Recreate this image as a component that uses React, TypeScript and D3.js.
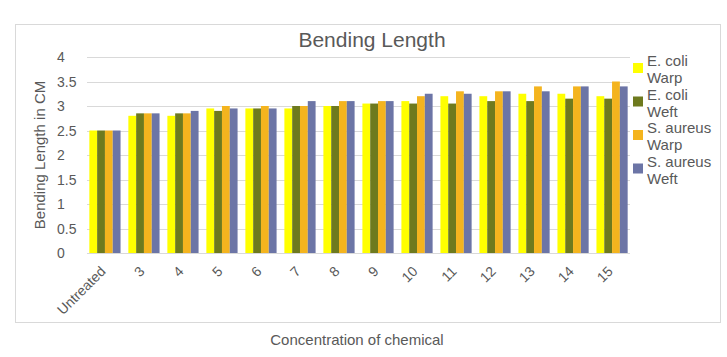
import React from "react";
import * as d3 from "d3";

const categories = ["Untreated", "3", "4", "5", "6", "7", "8", "9", "10", "11", "12", "13", "14", "15"];
const seriesNames = ["E. coli Warp", "E. coli Weft", "S. aureus Warp", "S. aureus Weft"];
const ecoliWarp = [2.5, 2.8, 2.8, 2.95, 2.95, 2.95, 3.0, 3.05, 3.1, 3.2, 3.2, 3.25, 3.25, 3.2];
const ecoliWeft = [2.5, 2.85, 2.85, 2.9, 2.95, 3.0, 3.0, 3.05, 3.05, 3.05, 3.1, 3.1, 3.15, 3.15];
const saureusWarp = [2.5, 2.85, 2.85, 3.0, 3.0, 3.0, 3.1, 3.1, 3.2, 3.3, 3.3, 3.4, 3.4, 3.5];
const saureusWeft = [2.5, 2.85, 2.9, 2.95, 2.95, 3.1, 3.1, 3.1, 3.25, 3.25, 3.3, 3.3, 3.4, 3.4];
const yTicks = [0, 0.5, 1, 1.5, 2, 2.5, 3, 3.5, 4];
const colors = ["#FFFF00", "#6E7A1E", "#F4B41E", "#6C75A6"];

const seriesValues = [ecoliWarp, ecoliWeft, saureusWarp, saureusWeft];
const legendLines = [["E. coli", "Warp"], ["E. coli", "Weft"], ["S. aureus", "Warp"], ["S. aureus", "Weft"]];

const W = 727;
const H = 357;
const font = "'Liberation Sans', Arial, sans-serif";
const textColor = "#595959";

export default function App() {
  const x0 = d3.scaleBand<string>().domain(categories).range([87, 630]).paddingInner(0.2).paddingOuter(0.06);
  const x1 = d3.scaleBand<number>().domain([0, 1, 2, 3]).range([0, x0.bandwidth()]);
  const y = d3.scaleLinear().domain([0, 4]).range([253, 57]);

  return (
    <svg width={W} height={H} style={{ position: "absolute", left: 0, top: 0, background: "#fff" }}>
      <rect x={0} y={0} width={W} height={H} fill="#fff" />
      <rect x={15.5} y={24.5} width={705} height={298} fill="#fff" stroke="#d9d9d9" strokeWidth={1} />
      <text x={372} y={47} textAnchor="middle" fontFamily={font} fontSize={21} fill={textColor}>
        Bending Length
      </text>
      {yTicks.map((t) => (
        <g key={t}>
          {t > 0 && (
            <line x1={87} x2={630} y1={Math.round(y(t)) + 0.5} y2={Math.round(y(t)) + 0.5} stroke="#d9d9d9" strokeWidth={1} />
          )}
          <text x={57} y={y(t) + 5} fontFamily={font} fontSize={14} fill={textColor}>
            {t}
          </text>
        </g>
      ))}
      {categories.map((c, ci) => (
        <g key={c} transform={`translate(${x0(c)},0)`}>
          {seriesValues.map((vals, si) => (
            <rect
              key={si}
              x={x1(si)}
              y={y(vals[ci])}
              width={x1.bandwidth()}
              height={y(0) - y(vals[ci])}
              fill={colors[si]}
            />
          ))}
        </g>
      ))}
      <line x1={87} x2={630} y1={253.5} y2={253.5} stroke="#d9d9d9" strokeWidth={1} />
      {categories.map((c) => {
        const cx = (x0(c) as number) + x0.bandwidth() / 2;
        return (
          <text
            key={c}
            transform={`translate(${cx - 1},${269.5}) rotate(-45)`}
            textAnchor="end"
            dominantBaseline="middle"
            fontFamily={font}
            fontSize={14}
            fill={textColor}
          >
            {c}
          </text>
        );
      })}
      <text
        transform={`translate(45,155) rotate(-90)`}
        textAnchor="middle"
        fontFamily={font}
        fontSize={15}
        fill={textColor}
      >
        Bending Length in CM
      </text>
      <text x={357} y={345} textAnchor="middle" fontFamily={font} fontSize={15} fill={textColor}>
        Concentration of chemical
      </text>
      {seriesNames.map((s, i) => {
        const cy = 68 + i * 33.5;
        return (
          <g key={s}>
            <rect x={633} y={cy - 5} width={10} height={10} fill={colors[i]} />
            <text x={647} y={cy - 2} fontFamily={font} fontSize={15} fill={textColor}>
              {legendLines[i][0]}
            </text>
            <text x={647} y={cy + 15} fontFamily={font} fontSize={15} fill={textColor}>
              {legendLines[i][1]}
            </text>
          </g>
        );
      })}
    </svg>
  );
}
